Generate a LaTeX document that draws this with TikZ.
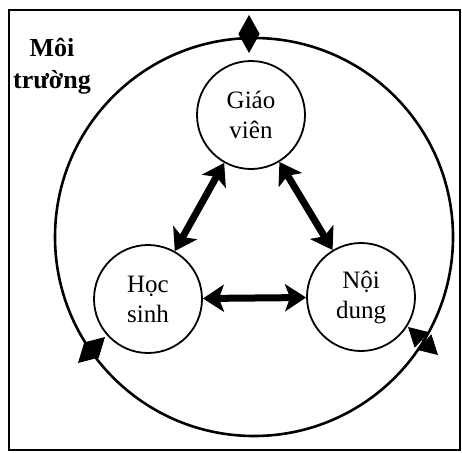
\documentclass[tikz,border=0pt]{standalone}
\usepackage{fontspec}
\setmainfont{Liberation Serif}
\usetikzlibrary{arrows.meta}
\begin{document}
\begin{tikzpicture}[x=1pt,y=-1pt,
  unit/.style={circle,draw,line width=1.8pt,minimum size=108pt,inner sep=0pt,align=center,
    font=\fontsize{25}{30}\selectfont},
  bigarrow/.style={line width=7pt,{Stealth[length=21pt,width=27pt,inset=5pt]}-{Stealth[length=21pt,width=27pt,inset=5pt]}},
  smallbi/.style={line width=1pt,{Triangle[length=19pt,width=21pt]}-{Triangle[length=19pt,width=21pt]}}]
\useasboundingbox (0,0) rectangle (462,452);
\draw[line width=2pt] (9,10) rectangle (460,450);
\node[circle,draw,line width=2.6pt,minimum size=398pt,inner sep=0pt] (env) at (254,237) {};
\node[font=\bfseries\fontsize{26}{32}\selectfont,align=center] (lbl) at (52,66) {Môi\\trường};
\node[unit] (gv) at (251,115) {Giáo\\viên};
\node[unit] (hs) at (148,299) {Học\\sinh};
\node[unit] (nd) at (361,297) {Nội\\dung};
\draw[bigarrow] (gv) -- (hs);
\draw[bigarrow] (gv) -- (nd);
\draw[bigarrow] (hs) -- (nd);
\coordinate (t1) at (249,15); \coordinate (t2) at (249,53);
\coordinate (l1) at (78,363); \coordinate (l2) at (105,337);
\coordinate (r1) at (438,355); \coordinate (r2) at (408,327);
\draw[smallbi] (t1) -- (t2);
\draw[smallbi] (l1) -- (l2);
\draw[smallbi] (r1) -- (r2);
\end{tikzpicture}
\end{document}
